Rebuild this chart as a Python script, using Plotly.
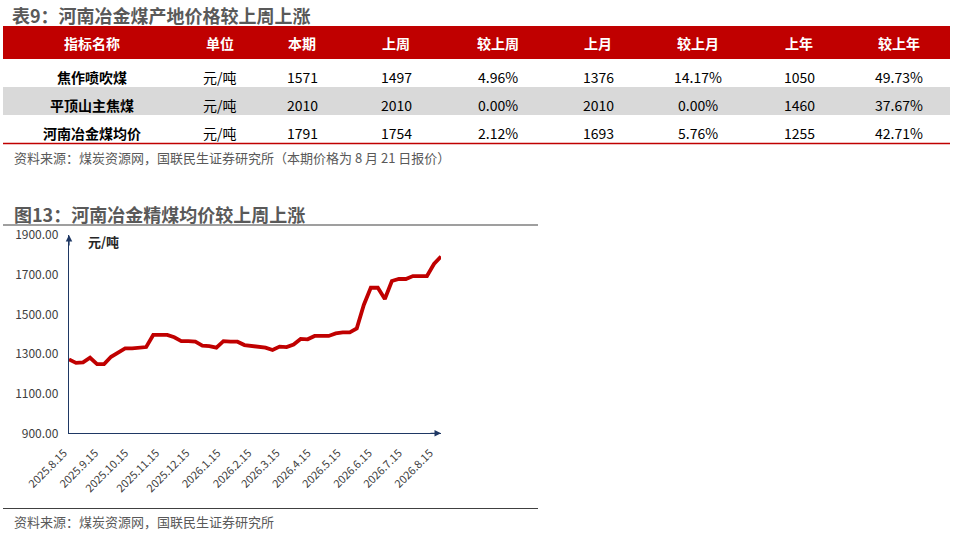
import plotly.graph_objects as go

W, H = 960, 536

# 表9 数据
table_cols = ['指标名称', '单位', '本期', '上周', '较上周', '上月', '较上月', '上年', '较上年']
row_names = ['焦作喷吹煤', '平顶山主焦煤', '河南冶金煤均价']
row_units = ['元/吨', '元/吨', '元/吨']
this_period = [1571, 2010, 1791]
last_week = [1497, 2010, 1754]
chg_week = ['4.96%', '0.00%', '2.12%']
last_month = [1376, 2010, 1693]
chg_month = ['14.17%', '0.00%', '5.76%']
last_year = [1050, 1460, 1255]
chg_year = ['49.73%', '37.67%', '42.71%']

# 图13 数据（周度）
dates = [
    '2025-08-15', '2025-08-22', '2025-08-29', '2025-09-05', '2025-09-12', '2025-09-19',
    '2025-09-26', '2025-10-03', '2025-10-10', '2025-10-17', '2025-10-24', '2025-10-31',
    '2025-11-07', '2025-11-14', '2025-11-21', '2025-11-28', '2025-12-05', '2025-12-12',
    '2025-12-19', '2025-12-26', '2026-01-02', '2026-01-09', '2026-01-16', '2026-01-23',
    '2026-01-30', '2026-02-06', '2026-02-13', '2026-02-20', '2026-02-27', '2026-03-06',
    '2026-03-13', '2026-03-20', '2026-03-27', '2026-04-03', '2026-04-10', '2026-04-17',
    '2026-04-24', '2026-05-01', '2026-05-08', '2026-05-15', '2026-05-22', '2026-05-29',
    '2026-06-05', '2026-06-12', '2026-06-19', '2026-06-26', '2026-07-03', '2026-07-10',
    '2026-07-17', '2026-07-24', '2026-07-31', '2026-08-07', '2026-08-14', '2026-08-21',
]
avg_price = [
    1273, 1255, 1258, 1281, 1249, 1249, 1286, 1308, 1328, 1328,
    1330, 1335, 1396, 1396, 1396, 1384, 1365, 1365, 1362, 1342,
    1340, 1332, 1365, 1362, 1362, 1345, 1342, 1337, 1332, 1320,
    1337, 1335, 1348, 1376, 1374, 1391, 1391, 1391, 1404, 1409,
    1409, 1429, 1547, 1634, 1634, 1577, 1668, 1678, 1678, 1693,
    1693, 1693, 1754, 1791,
]
tick_dates = ['2025-08-15', '2025-09-15', '2025-10-15', '2025-11-15', '2025-12-15',
              '2026-01-15', '2026-02-15', '2026-03-15', '2026-04-15', '2026-05-15',
              '2026-06-15', '2026-07-15', '2026-08-15']
tick_text = ['2025.8.15', '2025.9.15', '2025.10.15', '2025.11.15', '2025.12.15',
             '2026.1.15', '2026.2.15', '2026.3.15', '2026.4.15', '2026.5.15',
             '2026.6.15', '2026.7.15', '2026.8.15']

RED = '#C00000'
NAVY = '#1F3864'
GRAY_TXT = '#595959'
CJK = 'Noto Sans CJK SC'


def px(x):
    return x / W


def py(y):
    return 1 - y / H


def label(x, y, text, size, color, xanchor='center'):
    return dict(x=px(x), y=py(y), xref='paper', yref='paper', text=text,
                xanchor=xanchor, yanchor='middle', showarrow=False,
                font=dict(family=CJK, size=size, color=color))


fig = go.Figure()

fig.add_trace(go.Scatter(
    x=dates, y=avg_price, mode='lines', name='河南冶金精煤均价',
    line=dict(color=RED, width=3.8), hoverinfo='x+y'
))

shapes = []
annotations = []

# 表格背景
shapes.append(dict(type='rect', xref='paper', yref='paper', x0=px(3), x1=px(950),
                   y0=py(59), y1=py(26), fillcolor=RED, line_width=0, layer='below'))
shapes.append(dict(type='rect', xref='paper', yref='paper', x0=px(3), x1=px(950),
                   y0=py(115), y1=py(87), fillcolor='#D9D9D9', line_width=0, layer='below'))
shapes.append(dict(type='line', xref='paper', yref='paper', x0=px(3), x1=px(950),
                   y0=py(143.5), y1=py(143.5), line=dict(color=RED, width=1.5)))

col_x = [92, 220, 302, 396, 498, 598, 698, 799, 899]
header_y = 43
row_y = [77, 105, 133]

for cx, name in zip(col_x, table_cols):
    annotations.append(label(cx, header_y, f'<b>{name}</b>', 14, 'white'))

rows = list(zip(row_names, row_units, this_period, last_week, chg_week,
                last_month, chg_month, last_year, chg_year))
for ry, row in zip(row_y, rows):
    for j, (cx, val) in enumerate(zip(col_x, row)):
        txt = f'<b>{val}</b>' if j == 0 else str(val)
        annotations.append(label(cx, ry, txt, 14, '#000000'))

# 标题与来源
annotations.append(label(10, 15, '<b>表9：河南冶金煤产地价格较上周上涨</b>', 18, GRAY_TXT, 'left'))
annotations.append(label(12, 157, '资料来源：煤炭资源网，国联民生证券研究所（本期价格为 8 月 21 日报价）',
                         13, GRAY_TXT, 'left'))
annotations.append(label(12, 214, '<b>图13：河南冶金精煤均价较上周上涨</b>', 18, GRAY_TXT, 'left'))
annotations.append(label(12, 521, '资料来源：煤炭资源网，国联民生证券研究所', 13, GRAY_TXT, 'left'))
annotations.append(label(86, 241, '<b>元/吨</b>', 13, '#262626', 'left'))

shapes.append(dict(type='line', xref='paper', yref='paper', x0=px(3), x1=px(538),
                   y0=py(225), y1=py(225), line=dict(color='#404040', width=1.2)))
shapes.append(dict(type='line', xref='paper', yref='paper', x0=px(3), x1=px(538),
                   y0=py(508.5), y1=py(508.5), line=dict(color='#404040', width=1.2)))

# 坐标轴箭头
annotations.append(dict(x=1, y=0, xref='x domain', yref='y domain', ax=-12, ay=0,
                        text='', showarrow=True, arrowhead=2, arrowsize=1,
                        arrowwidth=1.3, arrowcolor=NAVY))
annotations.append(dict(x=0, y=1, xref='x domain', yref='y domain', ax=0, ay=12,
                        text='', showarrow=True, arrowhead=2, arrowsize=1,
                        arrowwidth=1.3, arrowcolor=NAVY))

fig.update_layout(
    width=W, height=H,
    margin=dict(l=0, r=0, t=0, b=0, autoexpand=False),
    paper_bgcolor='white', plot_bgcolor='white',
    showlegend=False,
    shapes=shapes, annotations=annotations,
    xaxis=dict(
        domain=[px(69), px(441)], automargin=False,
        type='date', range=[dates[0], dates[-1]],
        tickvals=tick_dates, ticktext=tick_text, tickangle=-45,
        ticklabelstandoff=8, ticklabelshift=-5,
        showgrid=False, zeroline=False, ticks='',
        showline=True, linecolor=NAVY, linewidth=1.3,
        tickfont=dict(family=CJK, size=11, color='#404040'),
    ),
    yaxis=dict(
        domain=[py(433.3), py(235)], automargin=False,
        range=[900, 1900], tick0=900, dtick=200, tickformat='.2f',
        showgrid=False, zeroline=False, ticks='',
        showline=True, linecolor=NAVY, linewidth=1.3,
        ticklabelstandoff=7,
        tickfont=dict(family=CJK, size=12, color='#404040'),
    ),
)

fig.write_html('out.html', config={'displayModeBar': False},
               post_script="document.body.style.margin='0';")
